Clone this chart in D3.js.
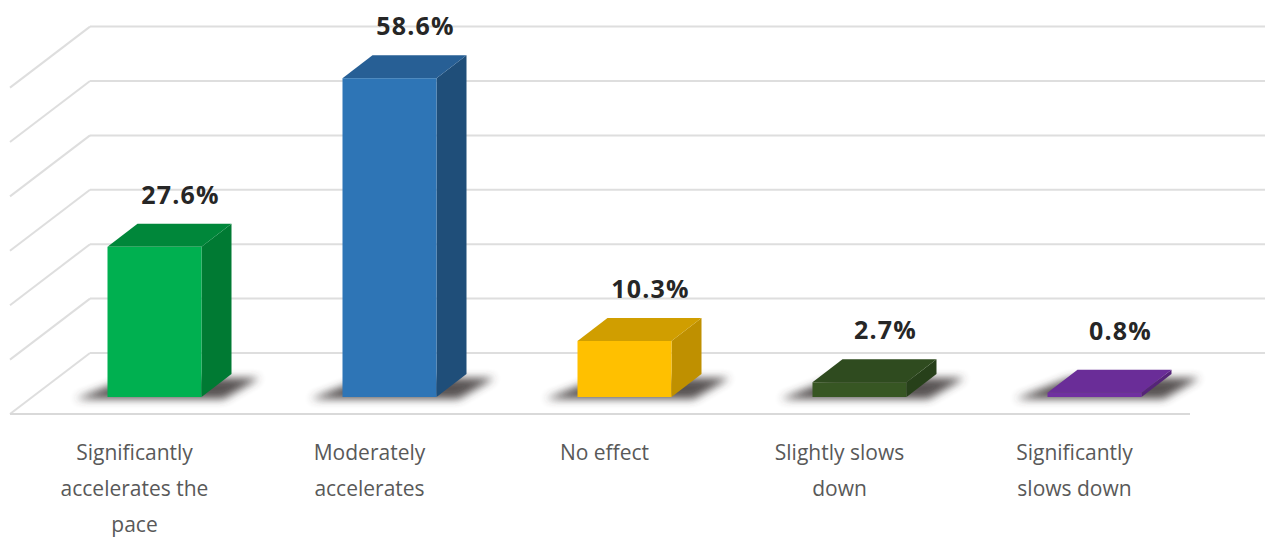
<!DOCTYPE html>
<html>
<head>
<meta charset="utf-8">
<script src="https://cdn.jsdelivr.net/npm/d3@7"></script>
<style>
    body { margin: 0; background: #fff; }
    svg { display: block; }
</style>
</head>
<body>
<svg width="1265" height="538"></svg>
<script>
// データ
var categories = ["sig_acc", "mod_acc", "none", "slight_slow", "sig_slow"];
var cat_labels = [
    ["Significantly", "accelerates the", "pace"],
    ["Moderately", "accelerates"],
    ["No effect"],
    ["Slightly slows", "down"],
    ["Significantly", "slows down"]
];
var values = [27.6, 58.6, 10.3, 2.7, 0.8];
var value_labels = ["27.6%", "58.6%", "10.3%", "2.7%", "0.8%"];
var grid_ticks = [0, 10, 20, 30, 40, 50, 60];

// 色 (front, side, top)
var front_colors = ["#00b050", "#2e75b6", "#ffc000", "#375623", "#7030a0"];
var side_colors  = ["#007a33", "#1f4e79", "#bf9000", "#27401a", "#552479"];
var top_colors   = ["#00873a", "#275f95", "#d09e00", "#2f4b1f", "#6a2d98"];

var svgwidth = 1265, svgheight = 538;
var svg = d3.select("svg");

// 奥行き (バー)
var dep_x = 30, dep_y = -23;
// 壁の奥行き
var wall_left = 90, wall_right = 1265, wall_dx = -80, wall_dy = 61, wall_shift = -44;

var xs = d3.scaleBand()
    .domain(categories)
    .range([37, 1212])
    .paddingInner(0.6)
    .paddingOuter(0.3)
;
var ys = d3.scaleLinear()
    .domain([0, 60])
    .range([397, 397 - 5.44 * 60])
;
var bw = xs.bandwidth();

var defs = svg.append("defs");
defs.append("filter")
    .attr("id", "blur")
    .attr("x", "-50%").attr("y", "-100%")
    .attr("width", "200%").attr("height", "300%")
    .append("feGaussianBlur")
    .attr("stdDeviation", 4)
;

// 壁のグリッド線
var grid = svg.append("g");
grid.selectAll(".hline")
    .data(grid_ticks)
    .enter()
    .append("line")
    .attr("x1", wall_left)
    .attr("x2", wall_right)
    .attr("y1", d => ys(d) + wall_shift)
    .attr("y2", d => ys(d) + wall_shift)
    .attr("stroke", "#dedede")
    .attr("stroke-width", 2)
;
grid.selectAll(".dline")
    .data(grid_ticks)
    .enter()
    .append("line")
    .attr("x1", wall_left)
    .attr("x2", wall_left + wall_dx)
    .attr("y1", d => ys(d) + wall_shift)
    .attr("y2", d => ys(d) + wall_shift + wall_dy)
    .attr("stroke", "#dedede")
    .attr("stroke-width", 2)
;
// 床の手前の線
grid.append("line")
    .attr("x1", wall_left + wall_dx)
    .attr("x2", 1190)
    .attr("y1", ys(0) + wall_shift + wall_dy)
    .attr("y2", ys(0) + wall_shift + wall_dy)
    .attr("stroke", "#d9d9d9")
    .attr("stroke-width", 2)
;

var bars = svg.selectAll(".bar")
    .data(values)
    .enter()
    .append("g")
    .attr("class", "bar")
;

function pts(a){ return a.map(p => p.join(",")).join(" "); }

// 影
bars.append("polygon")
    .attr("points", function(d, i){
        var x0 = xs(categories[i]), x1 = x0 + bw, yb = ys(0);
        return pts([[x0 - 32, yb + 2], [x1 + 22, yb + 2], [x1 + dep_x + 28, yb + dep_y + 4], [x0 + dep_x - 8, yb + dep_y + 4]]);
    })
    .attr("fill", "#3a3535")
    .attr("opacity", 0.85)
    .attr("filter", "url(#blur)")
;
// 側面
bars.append("polygon")
    .attr("points", function(d, i){
        var x1 = xs(categories[i]) + bw, yt = ys(d), yb = ys(0);
        return pts([[x1, yt], [x1 + dep_x, yt + dep_y], [x1 + dep_x, yb + dep_y], [x1, yb]]);
    })
    .attr("fill", (d, i) => side_colors[i])
;
// 上面
bars.append("polygon")
    .attr("points", function(d, i){
        var x0 = xs(categories[i]), x1 = x0 + bw, yt = ys(d);
        return pts([[x0, yt], [x0 + dep_x, yt + dep_y], [x1 + dep_x, yt + dep_y], [x1, yt]]);
    })
    .attr("fill", (d, i) => top_colors[i])
;
// 正面
bars.append("rect")
    .attr("x", (d, i) => xs(categories[i]))
    .attr("y", d => ys(d))
    .attr("width", bw)
    .attr("height", d => ys(0) - ys(d))
    .attr("fill", (d, i) => front_colors[i])
;

// 値ラベル
svg.selectAll(".vlabel")
    .data(values)
    .enter()
    .append("text")
    .attr("class", "vlabel")
    .attr("x", (d, i) => xs(categories[i]) + bw / 2 + 26)
    .attr("y", d => Math.min(ys(d) + dep_y - 20, 340))
    .attr("text-anchor", "middle")
    .attr("font-family", "'Open Sans', sans-serif")
    .attr("font-weight", "bold")
    .attr("font-size", 25)
    .attr("letter-spacing", 1.2)
    .attr("fill", "#262626")
    .text((d, i) => value_labels[i])
;

// カテゴリラベル
var cl = svg.selectAll(".clabel")
    .data(cat_labels)
    .enter()
    .append("text")
    .attr("class", "clabel")
    .attr("text-anchor", "middle")
    .attr("font-family", "'Open Sans', sans-serif")
    .attr("font-size", 21)
    .attr("fill", "#595959")
;
cl.selectAll("tspan")
    .data((d, i) => d.map(s => ({ s: s, i: i })))
    .enter()
    .append("tspan")
    .attr("x", d => xs(categories[d.i]) + 27)
    .attr("y", (d, j) => 460 + j * 36)
    .text(d => d.s)
;
</script>
</body>
</html>
